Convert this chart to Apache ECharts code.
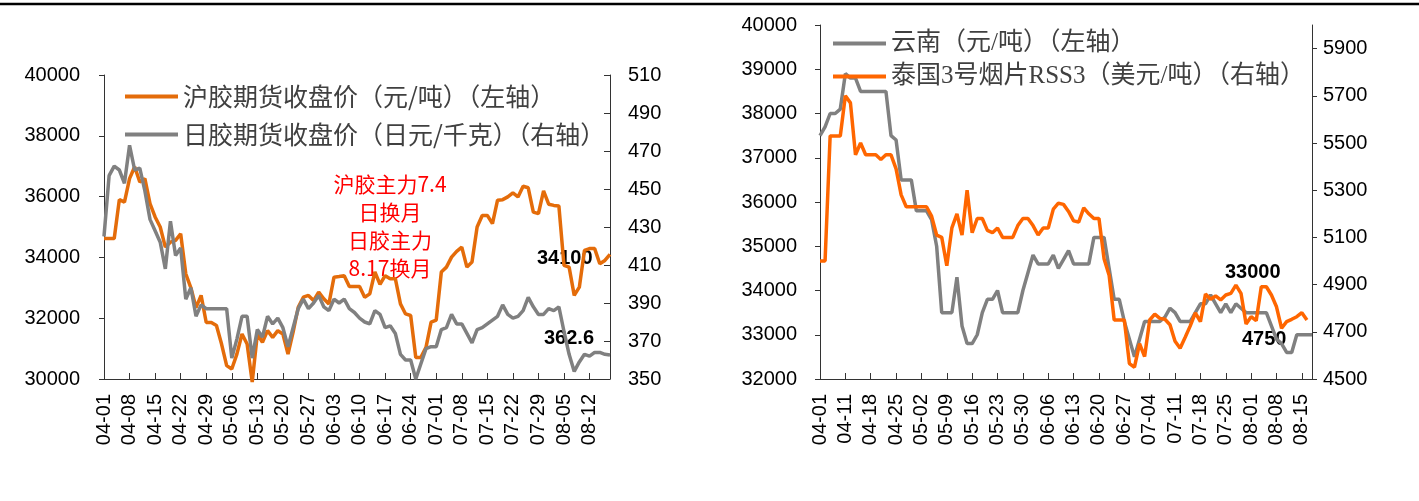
<!DOCTYPE html>
<html>
<head>
<meta charset="utf-8">
<script src="https://cdn.jsdelivr.net/npm/echarts@6/dist/echarts.min.js"></script>
<style>
  html, body { margin: 0; padding: 0; background: #fff; }
  #chart { width: 1419px; height: 501px; }
</style>
</head>
<body>
<div id="chart"></div>
<script>
// 工作日日期（MM-DD）
function weekdays(start, end) {
  const out = [];
  const d = new Date(start + 'T00:00:00Z');
  const e = new Date(end + 'T00:00:00Z');
  while (d <= e) {
    const w = d.getUTCDay();
    if (w !== 0 && w !== 6) {
      out.push(String(d.getUTCMonth() + 1).padStart(2, '0') + '-' + String(d.getUTCDate()).padStart(2, '0'));
    }
    d.setUTCDate(d.getUTCDate() + 1);
  }
  return out;
}

// 左图：沪胶 / 日胶
const leftDates = weekdays('2024-04-01', '2024-08-16');
const shfeClose = [
  34620, 34620, 34620, 35900, 35820, 36590, 36980, 36480, 36590, 35770,
  35330, 35000, 34340, 34500, 34560, 34780, 33460, 33000, 32350, 32750,
  31860, 31860, 31760, 31150, 30440, 30330, 30820, 31480, 31150, 29900,
  31480, 31210, 31590, 31370, 31590, 31480, 30820, 31540, 32360, 32690,
  32750, 32580, 32860, 32640, 32470, 33350, 33370, 33400, 33040, 33040,
  33040, 32690, 32800, 33520, 33110, 33400, 33300, 33300, 32470, 32140,
  32090, 30710, 30710, 31040, 31870, 31940, 33520, 33680, 34010, 34200,
  34340, 33680, 33850, 35000, 35380, 35380, 35110, 35880, 35900, 35990,
  36120, 35990, 36340, 36290, 35490, 35440, 36190, 35750, 35710, 35690,
  33740, 33680, 32750, 33020, 34230, 34290, 34290, 33790, 33900, 34100
];
const jpxClose = [
  425, 457, 462, 460, 453, 473, 460, 461, 449, 434,
  428, 422, 408, 433, 415, 419, 392, 398, 383, 389,
  387, 387, 387, 387, 387, 361, 371, 383, 383, 361,
  376, 372, 383, 379, 382, 377, 367, 377, 387, 392,
  387, 390, 394, 388, 386, 392, 390, 392, 387, 385,
  382, 380, 379, 386, 384, 377, 378, 374, 363, 360,
  360, 350, 358, 366, 367, 367, 376, 377, 384, 379,
  379, 374, 369, 376, 377, 379, 381, 383, 389, 384,
  382, 383, 386, 393, 388, 384, 384, 387, 386, 388,
  375, 363, 354, 359, 363, 362, 364, 364, 363, 362.6
];

// 右图：云南 / 泰国RSS3
const rightDates = ['04-01', '04-02', '04-03', '04-09', '04-10', '04-11'].concat(weekdays('2024-04-12', '2024-08-19'));
const yunnan = [
  37500, 37700, 38000, 38000, 38100, 38900, 38800, 38800, 38500, 38500,
  38500, 38500, 38500, 38500, 37500, 37400, 36500, 36500, 36500, 35800,
  35800, 35800, 35600, 35000, 33500, 33500, 33500, 34300, 33200, 32800,
  32800, 33000, 33500, 33800, 33800, 34000, 33500, 33500, 33500, 33500,
  34000, 34400, 34800, 34600, 34600, 34600, 34800, 34500, 34700, 34900,
  34600, 34600, 34600, 34600, 35200, 35200, 35200, 34500, 33800, 33800,
  33300, 32900, 32500, 32900, 33300, 33300, 33300, 33300, 33400, 33600,
  33500, 33300, 33300, 33300, 33500, 33700, 33700, 33900, 33700, 33500,
  33700, 33500, 33700, 33600, 33500, 33500, 33500, 33500, 33500, 33200,
  32900, 32800, 32600, 32600, 33000, 33000, 33000, 33000
];
const thaiRss3 = [
  5000, 5000, 5530, 5530, 5530, 5700, 5670, 5450, 5500, 5450,
  5450, 5450, 5430, 5450, 5450, 5390, 5280, 5230, 5230, 5230,
  5230, 5230, 5190, 5110, 5100, 4980, 5140, 5200, 5110, 5300,
  5120, 5180, 5180, 5130, 5120, 5140, 5100, 5100, 5100, 5150,
  5180, 5180, 5150, 5110, 5140, 5140, 5220, 5245, 5240, 5210,
  5170, 5165, 5225, 5200, 5180, 5180, 5010, 4940, 4750, 4750,
  4750, 4565, 4550, 4650, 4595, 4750, 4775, 4757, 4753, 4730,
  4660, 4630, 4677, 4725, 4780, 4743, 4860, 4838, 4852, 4835,
  4856, 4863, 4898, 4863, 4733, 4764, 4747, 4891, 4891, 4856,
  4806, 4715, 4743, 4753, 4764, 4781, 4750
];

const FONT = "'Liberation Sans', Arial, sans-serif";
const CJK = "'Noto Sans CJK SC', sans-serif";

const myChart = echarts.init(document.getElementById('chart'));

const xAxisCommon = {
  type: 'category',
  boundaryGap: false,
  axisLine: { lineStyle: { color: '#333', width: 1 } },
  axisTick: { inside: true, length: 6, interval: 4, lineStyle: { color: '#333' } },
  axisLabel: { interval: 4, rotate: 90, margin: 15, color: '#000', fontFamily: FONT, fontSize: 20 },
  splitLine: { show: false }
};
const yAxisCommon = {
  type: 'value',
  axisLine: { show: true, lineStyle: { color: '#333', width: 1 } },
  axisTick: { show: true, length: 5, lineStyle: { color: '#333' } },
  axisLabel: { color: '#000', fontFamily: FONT, fontSize: 20, formatter: v => String(v) },
  splitLine: { show: false }
};

let option = {
  animation: false,
  backgroundColor: '#fff',
  grid: [
    { left: 104, top: 75, width: 506, height: 304 },
    { left: 820, top: 25, width: 492, height: 354 }
  ],
  legend: [
    {
      data: ['沪胶期货收盘价（元/吨）（左轴）', '日胶期货收盘价（日元/千克）（右轴）'],
      orient: 'vertical',
      left: 120,
      top: 79,
      itemGap: 13,
      icon: 'rect',
      itemWidth: 53,
      itemHeight: 4,
      textStyle: { fontFamily: CJK, fontSize: 25, color: '#404040' }
    },
    {
      data: ['云南（元/吨）（左轴）', '泰国3号烟片RSS3（美元/吨）（右轴）'],
      orient: 'vertical',
      left: 828,
      top: 26,
      itemGap: 8,
      icon: 'rect',
      itemWidth: 53,
      itemHeight: 4,
      textStyle: { fontFamily: "'Liberation Serif', 'Noto Sans CJK SC', serif", fontSize: 25, color: '#404040' }
    }
  ],
  xAxis: [
    Object.assign({}, xAxisCommon, { gridIndex: 0, data: leftDates }),
    Object.assign({}, xAxisCommon, { gridIndex: 1, data: rightDates })
  ],
  yAxis: [
    Object.assign({}, yAxisCommon, {
      gridIndex: 0, position: 'left', min: 30000, max: 40000, interval: 2000,
      axisLabel: Object.assign({}, yAxisCommon.axisLabel, { margin: 24 })
    }),
    Object.assign({}, yAxisCommon, {
      gridIndex: 0, position: 'right', min: 350, max: 510, interval: 20,
      axisTick: { show: true, inside: true, length: 6, lineStyle: { color: '#333' } },
      axisLabel: Object.assign({}, yAxisCommon.axisLabel, { margin: 18 })
    }),
    Object.assign({}, yAxisCommon, {
      gridIndex: 1, position: 'left', min: 32000, max: 40000, interval: 1000,
      axisLabel: Object.assign({}, yAxisCommon.axisLabel, { margin: 23 })
    }),
    Object.assign({}, yAxisCommon, {
      gridIndex: 1, position: 'right', min: 4500, max: 6000, interval: 200,
      axisLabel: Object.assign({}, yAxisCommon.axisLabel, { margin: 11, showMaxLabel: false })
    })
  ],
  series: [
    {
      name: '沪胶期货收盘价（元/吨）（左轴）',
      type: 'line', xAxisIndex: 0, yAxisIndex: 0,
      data: shfeClose, symbol: 'none', clip: false,
      itemStyle: { color: '#E46C0A' },
      lineStyle: { color: '#E46C0A', width: 3.5 }
    },
    {
      name: '日胶期货收盘价（日元/千克）（右轴）',
      type: 'line', xAxisIndex: 0, yAxisIndex: 1,
      data: jpxClose, symbol: 'none', clip: false,
      itemStyle: { color: '#808080' },
      lineStyle: { color: '#808080', width: 3.5 }
    },
    {
      name: '云南（元/吨）（左轴）',
      type: 'line', xAxisIndex: 1, yAxisIndex: 2,
      data: yunnan, symbol: 'none',
      itemStyle: { color: '#808080' },
      lineStyle: { color: '#808080', width: 3.5 }
    },
    {
      name: '泰国3号烟片RSS3（美元/吨）（右轴）',
      type: 'line', xAxisIndex: 1, yAxisIndex: 3,
      data: thaiRss3, symbol: 'none',
      itemStyle: { color: '#FF6600' },
      lineStyle: { color: '#FF6600', width: 3.5 }
    }
  ],
  graphic: [
    { type: 'line', shape: { x1: 0, y1: 4, x2: 1419, y2: 4 }, style: { stroke: '#000', lineWidth: 2.5 } },
    {
      type: 'text', x: 390, y: 170,
      style: {
        text: '沪胶主力7.4\n日换月\n日胶主力\n8.17换月',
        fill: '#FF0000', font: "21px 'Noto Sans CJK SC', sans-serif",
        lineHeight: 28, align: 'center', verticalAlign: 'top'
      }
    },
    { type: 'text', left: 537, top: 248, style: { text: '34100', fill: '#000', font: "bold 20px 'Liberation Sans', Arial" } },
    { type: 'text', left: 544, top: 328, style: { text: '362.6', fill: '#000', font: "bold 20px 'Liberation Sans', Arial" } },
    { type: 'text', left: 1225, top: 262, style: { text: '33000', fill: '#000', font: "bold 20px 'Liberation Sans', Arial" } },
    { type: 'text', left: 1242, top: 329, style: { text: '4750', fill: '#000', font: "bold 20px 'Liberation Sans', Arial" } }
  ]
};

option && myChart.setOption(option);
</script>
</body>
</html>
